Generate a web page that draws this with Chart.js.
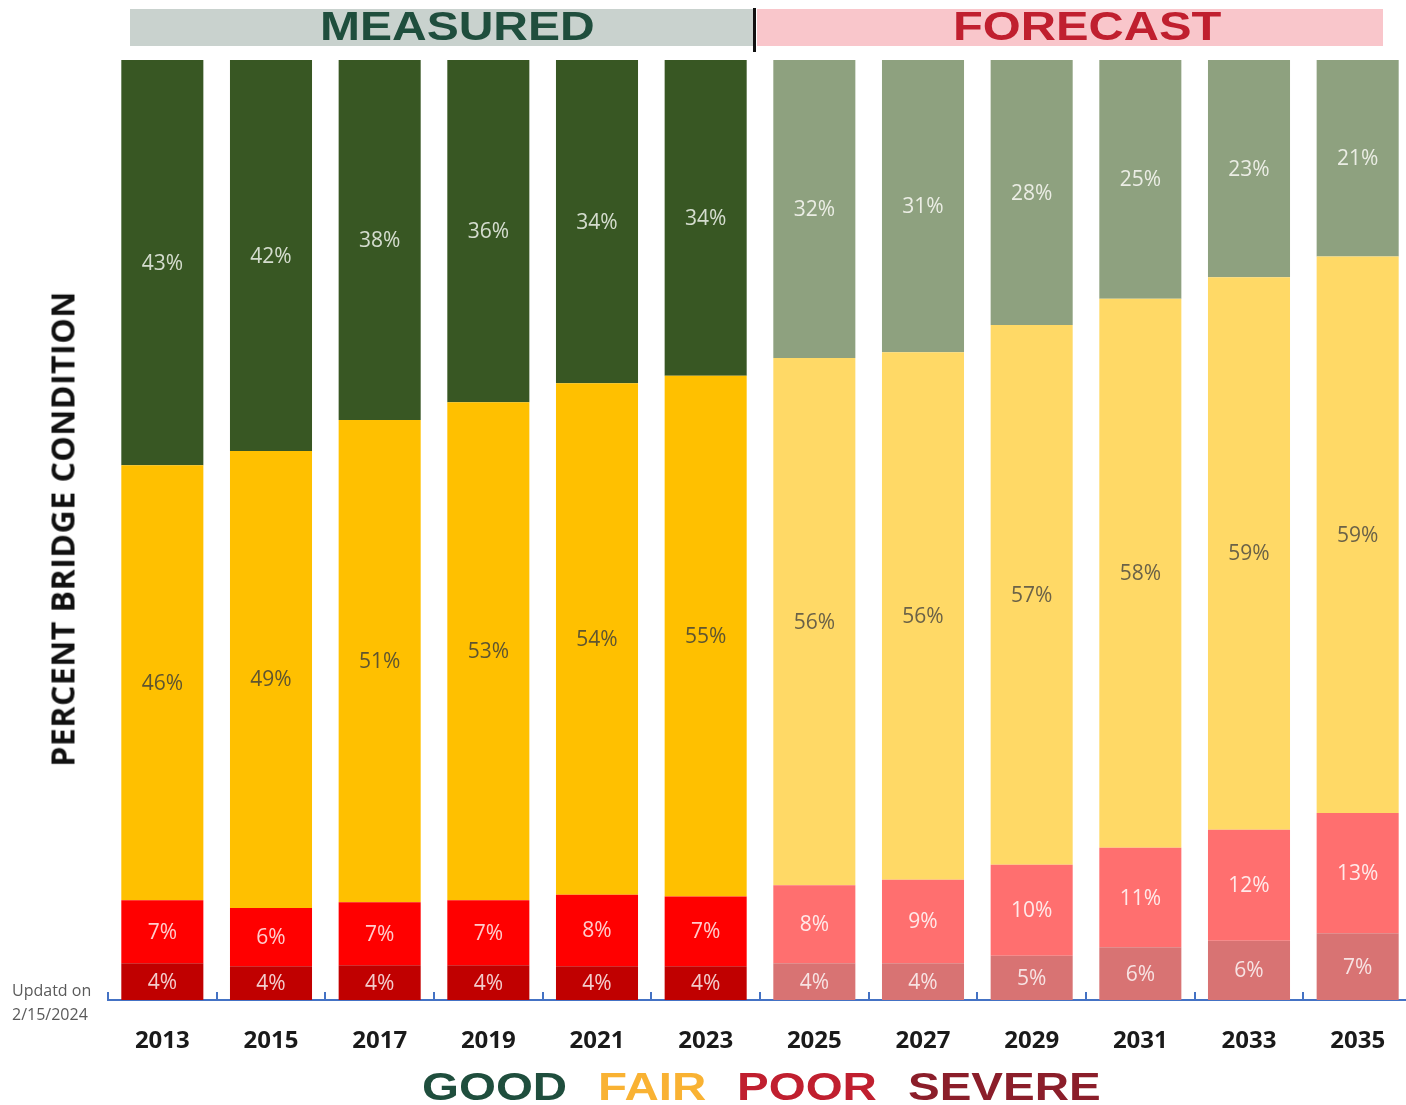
<!DOCTYPE html>
<html>
<head>
<meta charset="utf-8">
<script src="https://cdn.jsdelivr.net/npm/chart.js@4/dist/chart.umd.min.js"></script>
<style>
  html, body { margin: 0; padding: 0; background: #fff; overflow: hidden; }
  #wrap { position: relative; width: 1406px; height: 1105px; overflow: hidden; }
  #chart { position: absolute; left: 0; top: 0; }
  .band { position: absolute; top: 9px; height: 37px; }
  .head, .leg { position: absolute; font-family: "Liberation Sans", Arial, sans-serif; font-weight: bold; white-space: nowrap; transform-origin: left center; }
  .head { top: 6px; font-size: 40px; line-height: 40px; }
  .leg { top: 1068px; font-size: 38px; line-height: 38px; transform: scaleX(1.25); }
  #ytitle { position: absolute; left: 62px; top: 529px; transform: translate(-50%, -50%) rotate(-90deg);
            font-family: "Open Sans", sans-serif; font-weight: bold; font-size: 32px; letter-spacing: 0.5px; white-space: nowrap; color: #111; }
  #note { position: absolute; left: 12px; top: 978px; font-family: "Open Sans", sans-serif; font-size: 16px; line-height: 24px; color: #5a5a5a; }
</style>
</head>
<body>
<div id="wrap">
  <canvas id="chart" width="1412" height="1105"></canvas>
  <div class="band" style="left:130px;width:625px;background:#c9d2ce;"></div>
  <div class="band" style="left:757px;width:626px;background:#f9c6cb;"></div>
  <div style="position:absolute;left:753px;top:8px;width:3px;height:44px;background:#111;"></div>
  <div class="head" style="left:320px;color:#1f4e3d;transform:scaleX(1.2);">MEASURED</div>
  <div class="head" style="left:953px;color:#c01f2f;transform:scaleX(1.22);">FORECAST</div>
  <div id="ytitle">PERCENT BRIDGE CONDITION</div>
  <div id="note">Updatd on<br>2/15/2024</div>
  <div class="leg" style="left:422px;color:#1f4e3d;">GOOD</div>
  <div class="leg" style="left:598px;color:#f9b233;">FAIR</div>
  <div class="leg" style="left:737px;color:#c01f2f;">POOR</div>
  <div class="leg" style="left:908px;color:#8b1e2a;">SEVERE</div>
</div>
<script>
// years 2013-2023 are measured, 2025-2035 are forecast
var years = ['2013', '2015', '2017', '2019', '2021', '2023', '2025', '2027', '2029', '2031', '2033', '2035'];
var measuredCount = 6;

// percent of bridges per condition
var severe = [3.9, 3.6, 3.7, 3.7, 3.6, 3.6, 3.9, 3.9, 4.7, 5.6, 6.3, 7.1];
var poor   = [6.7, 6.2, 6.7, 6.9, 7.6, 7.4, 8.3, 8.9, 9.7, 10.6, 11.8, 12.8];
var fair   = [46.3, 48.6, 51.3, 53.0, 54.4, 55.4, 56.1, 56.1, 57.4, 58.4, 58.8, 59.2];
var good   = [43.1, 41.6, 38.3, 36.4, 34.4, 33.6, 31.7, 31.1, 28.2, 25.4, 23.1, 20.9];

function colors(measured, forecast) {
    return years.map(function(y, i) { return i < measuredCount ? measured : forecast; });
}

var segmentLabels = {
    id: 'segmentLabels',
    afterDatasetsDraw: function(chart) {
        var ctx = chart.ctx;
        ctx.save();
        ctx.font = '21px "Open Sans", sans-serif';
        ctx.textAlign = 'center';
        ctx.textBaseline = 'middle';
        chart.data.datasets.forEach(function(ds, d) {
            var meta = chart.getDatasetMeta(d);
            meta.data.forEach(function(bar, i) {
                var cy = (bar.y + bar.base) / 2;
                ctx.fillStyle = ds.labelColor[i < measuredCount ? 0 : 1];
                ctx.fillText(Math.round(ds.data[i]) + '%', bar.x, cy + 1);
            });
        });
        ctx.restore();
    }
};

var axisTicks = {
    id: 'axisTicks',
    afterDraw: function(chart) {
        var ctx = chart.ctx;
        var x = chart.scales.x;
        var step = x.width / years.length;
        var bottom = chart.chartArea.bottom;
        ctx.save();
        ctx.strokeStyle = '#4472c4';
        ctx.lineWidth = 2;
        for (var i = 0; i <= years.length; i++) {
            var px = Math.round(x.left + i * step);
            ctx.beginPath();
            ctx.moveTo(px, bottom);
            ctx.lineTo(px, bottom - 8);
            ctx.stroke();
        }
        ctx.restore();
    }
};

var ctx = document.getElementById('chart');

var chart = new Chart(ctx, {
    type: 'bar',
    data: {
        labels: years,
        datasets: [{
            label: 'Severe',
            data: severe,
            backgroundColor: colors('#c00000', '#d87373'),
            labelColor: ['rgba(255,255,255,0.8)', 'rgba(255,255,255,0.8)']
        }, {
            label: 'Poor',
            data: poor,
            backgroundColor: colors('#ff0000', '#ff6f6f'),
            labelColor: ['rgba(255,255,255,0.8)', 'rgba(255,255,255,0.85)']
        }, {
            label: 'Fair',
            data: fair,
            backgroundColor: colors('#ffc000', '#ffd966'),
            labelColor: ['#5f5530', '#6b6248']
        }, {
            label: 'Good',
            data: good,
            backgroundColor: colors('#385723', '#8ea17f'),
            labelColor: ['rgba(230,235,225,0.9)', 'rgba(245,245,240,0.9)']
        }]
    },
    options: {
        responsive: false,
        animation: false,
        devicePixelRatio: 1,
        layout: { padding: { left: 108, top: 60, right: 0, bottom: 0 } },
        categoryPercentage: 1,
        barPercentage: 0.755,
        plugins: {
            legend: { display: false },
            tooltip: { enabled: false }
        },
        scales: {
            x: {
                stacked: true,
                grid: { display: false },
                border: { display: true, color: '#4472c4', width: 2 },
                ticks: {
                    color: '#1a1a1a',
                    padding: 19,
                    font: { family: '"Open Sans", sans-serif', size: 24, weight: 'bold' }
                },
                afterFit: function(scale) { scale.height = 105; }
            },
            y: {
                stacked: true,
                display: false,
                min: 0,
                max: 100
            }
        }
    },
    plugins: [segmentLabels, axisTicks]
});
</script>
</body>
</html>
